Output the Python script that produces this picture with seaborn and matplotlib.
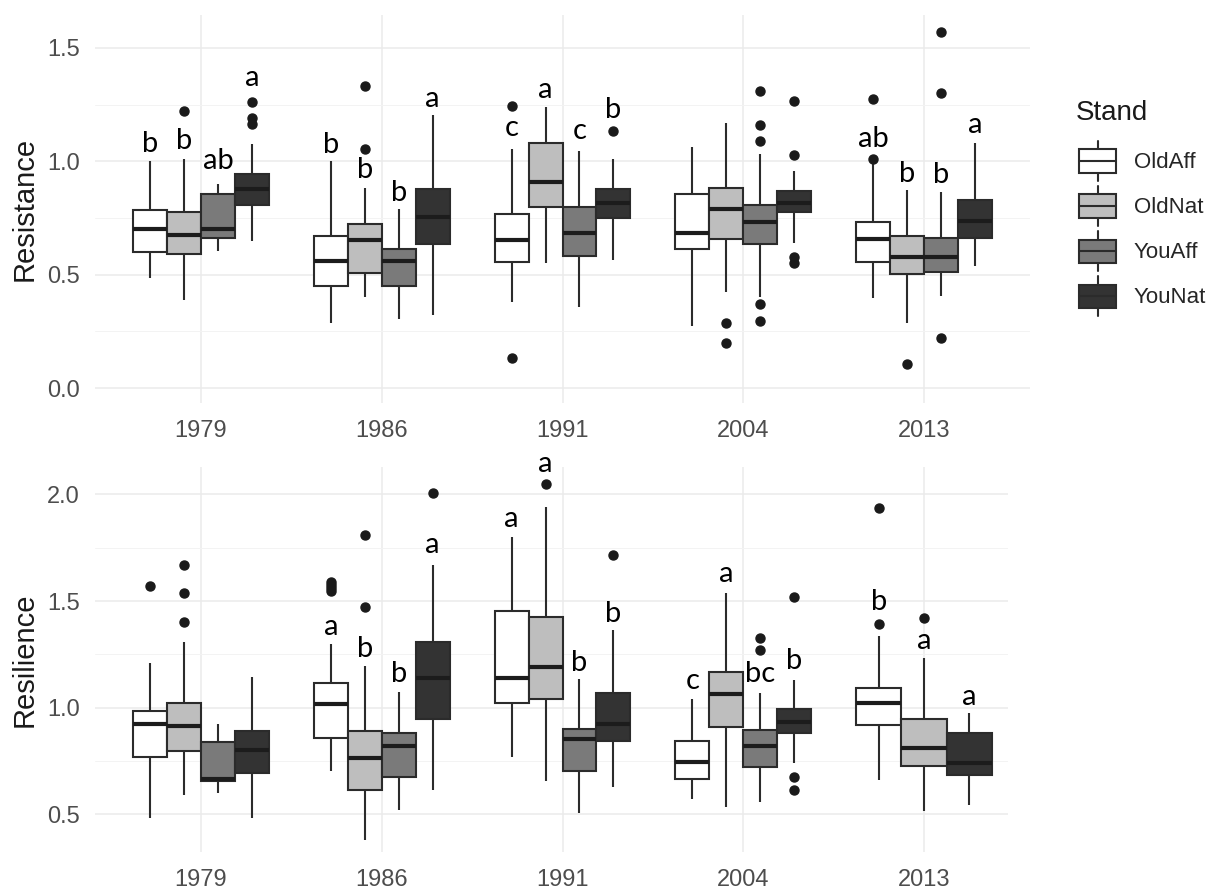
import numpy as np
import pandas as pd
import seaborn as sns
import matplotlib.pyplot as plt
from matplotlib.patches import Patch, Rectangle
from matplotlib.lines import Line2D
from matplotlib.legend_handler import HandlerBase
from matplotlib.ticker import MultipleLocator, FormatStrFormatter

years = ["1979", "1986", "1991", "2004", "2013"]
stands = ["OldAff", "OldNat", "YouAff", "YouNat"]
fills = ["#FFFFFF", "#BEBEBE", "#7A7A7A", "#333333"]

# box summaries: (low whisker, Q1, median, Q3, high whisker)
# rows = years, cols = stands
res_box = [
    [(0.485, 0.60, 0.70, 0.785, 1.00), (0.388, 0.59, 0.675, 0.776, 1.01),
     (0.605, 0.662, 0.70, 0.855, 0.90), (0.65, 0.808, 0.876, 0.943, 1.075)],
    [(0.285, 0.45, 0.56, 0.672, 1.00), (0.40, 0.507, 0.653, 0.723, 0.88),
     (0.303, 0.45, 0.56, 0.612, 0.79), (0.322, 0.635, 0.754, 0.878, 1.205)],
    [(0.38, 0.556, 0.652, 0.768, 1.054), (0.553, 0.80, 0.91, 1.08, 1.24),
     (0.356, 0.584, 0.685, 0.80, 1.047), (0.565, 0.749, 0.818, 0.878, 1.01)],
    [(0.275, 0.612, 0.685, 0.854, 1.064), (0.425, 0.656, 0.79, 0.884, 1.17),
     (0.40, 0.636, 0.73, 0.805, 1.03), (0.64, 0.775, 0.818, 0.869, 0.957)],
    [(0.398, 0.556, 0.659, 0.733, 0.99), (0.285, 0.503, 0.579, 0.671, 0.873),
     (0.406, 0.513, 0.579, 0.66, 0.866), (0.538, 0.66, 0.737, 0.83, 1.08)],
]
res_out = [
    [[], [1.22], [], [1.26, 1.19, 1.165]],
    [[], [1.33, 1.055], [], []],
    [[1.245, 0.132], [], [], [1.135]],
    [[], [0.288, 0.20], [1.31, 1.16, 1.09, 0.37, 0.295], [1.266, 1.028, 0.578, 0.55]],
    [[1.273, 1.01], [0.105], [1.57, 1.30, 0.22], []],
]
res_letters = [["b", "b", "ab", "a"], ["b", "b", "b", "a"], ["c", "a", "c", "b"],
               ["", "", "", ""], ["ab", "b", "b", "a"]]
res_letter_y = [[1.04, 1.054, 0.966, 1.33], [1.035, 0.925, 0.826, 1.24],
                [1.11, 1.28, 1.098, 1.19], [0, 0, 0, 0], [1.065, 0.91, 0.905, 1.123]]

rsl_box = [
    [(0.48, 0.768, 0.923, 0.984, 1.209), (0.59, 0.796, 0.913, 1.02, 1.308),
     (0.60, 0.655, 0.665, 0.84, 0.923), (0.48, 0.693, 0.80, 0.89, 1.143)],
    [(0.70, 0.857, 1.016, 1.115, 1.298), (0.378, 0.613, 0.763, 0.89, 1.195),
     (0.52, 0.675, 0.819, 0.88, 1.073), (0.613, 0.946, 1.138, 1.308, 1.669)],
    [(0.768, 1.02, 1.138, 1.453, 1.80), (0.655, 1.04, 1.19, 1.425, 1.94),
     (0.505, 0.70, 0.852, 0.899, 1.134), (0.627, 0.843, 0.923, 1.068, 1.364)],
    [(0.57, 0.664, 0.744, 0.843, 1.04), (0.533, 0.909, 1.063, 1.167, 1.537),
     (0.556, 0.72, 0.819, 0.894, 1.068), (0.739, 0.88, 0.932, 0.993, 1.129)],
    [(0.66, 0.918, 1.021, 1.092, 1.336), (0.514, 0.725, 0.81, 0.946, 1.233),
     None, (0.542, 0.683, 0.739, 0.88, 0.974)],
]
rsl_out = [
    [[1.57], [1.669, 1.537, 1.40], [], []],
    [[1.59, 1.575, 1.56, 1.545], [1.81, 1.472], [], [2.007]],
    [[], [2.05], [], [1.716]],
    [[], [], [1.326, 1.27], [1.519, 0.674, 0.613]],
    [[1.937, 1.392], [1.42], [], []],
]
rsl_letters = [["", "", "", ""], ["a", "b", "b", "a"], ["a", "a", "b", "b"],
               ["c", "a", "bc", "b"], ["b", "a", "", "a"]]
rsl_letter_y = [[0, 0, 0, 0], [1.34, 1.237, 1.12, 1.725], [1.847, 2.105, 1.17, 1.40],
                [1.087, 1.59, 1.12, 1.18], [1.458, 1.275, 0, 1.012]]


def to_long(box, out, k=40):
    # rebuild a sample whose quartiles/whiskers/outliers match the summaries
    rows = []
    for i, yr in enumerate(years):
        for j, st in enumerate(stands):
            if box[i][j] is None:
                continue
            lo, q1, med, q3, hi = box[i][j]
            vals = [lo] + [q1] * k + [med] * k + [q3] * k + [hi] + list(out[i][j])
            rows += [(yr, st, v) for v in vals]
    return pd.DataFrame(rows, columns=["year", "stand", "value"])


res_df = to_long(res_box, res_out)
rsl_df = to_long(rsl_box, rsl_out)

sns.set_theme(style="white")
plt.rcParams["font.family"] = ["Liberation Sans", "DejaVu Sans"]

edge = "#2b2b2b"
pal = dict(zip(stands, fills))
box_kw = dict(x="year", y="value", hue="stand", order=years, width=0.75, gap=0,
              saturation=1, linewidth=1.5, linecolor=edge, fliersize=6.5,
              showcaps=False, legend=False,
              medianprops=dict(linewidth=3.0, color="#1c1c1c"),
              flierprops=dict(marker="o", markerfacecolor="#1a1a1a",
                              markeredgecolor="#1a1a1a"))

W, H = 1222, 889
fig = plt.figure(figsize=(W / 100, H / 100), dpi=100)
ax1 = fig.add_axes([95 / W, 1 - 403 / H, 935 / W, 388 / H])
ax2 = fig.add_axes([95 / W, 1 - 852 / H, 913 / W, 385 / H])

sns.boxplot(data=res_df, hue_order=stands, palette=pal, ax=ax1, **box_kw)
sns.boxplot(data=rsl_df[rsl_df.year != "2013"], hue_order=stands, palette=pal,
            ax=ax2, **box_kw)
sub = ["OldAff", "OldNat", "YouNat"]
sns.boxplot(data=rsl_df[rsl_df.year == "2013"], hue_order=sub,
            palette={s: pal[s] for s in sub}, ax=ax2, **box_kw)

off4 = (np.arange(4) - 1.5) * 0.75 / 4
off3 = {"OldAff": -0.25, "OldNat": 0.0, "YouNat": 0.25}
for ax, letters, ly in [(ax1, res_letters, res_letter_y), (ax2, rsl_letters, rsl_letter_y)]:
    for i, yr in enumerate(years):
        for j, st in enumerate(stands):
            if not letters[i][j]:
                continue
            dx = off4[j]
            if ax is ax2 and yr == "2013":
                dx = off3[st]
            ax.text(i + dx, ly[i][j], letters[i][j], ha="center", va="baseline",
                    fontsize=21, color="black", family=["Lato", "DejaVu Sans"])

ax1.set_xlim(-(201 - 95) / 180.75, 4 + (1030 - 924) / 180.75)
ax2.set_xlim(-(201 - 95) / 180.75, 4 + (1008 - 924) / 180.75)
ax1.set_ylim(-0.066, 1.645)
ax2.set_ylim(0.322, 2.129)
ax1.set_yticks([0.0, 0.5, 1.0, 1.5])
ax2.set_yticks([0.5, 1.0, 1.5, 2.0])

for ax, lab in [(ax1, "Resistance"), (ax2, "Resilience")]:
    ax.yaxis.set_major_formatter(FormatStrFormatter("%.1f"))
    ax.yaxis.set_minor_locator(MultipleLocator(0.25))
    ax.set_axisbelow(True)
    ax.grid(True, which="major", color="#EBEBEB", linewidth=1.1)
    ax.grid(True, which="minor", axis="y", color="#F3F3F3", linewidth=0.7)
    for s in ax.spines.values():
        s.set_visible(False)
    ax.tick_params(which="both", length=0, labelsize=17, labelcolor="#4D4D4D")
    ax.tick_params(axis="x", pad=12.5)
    ax.tick_params(axis="y", pad=11)
    ax.set_xlabel("")
    ax.set_ylabel(lab, fontsize=21, color="#1a1a1a", va="center")
    ax.yaxis.set_label_coords(-70 / (ax.get_position().width * W), 0.5)


class BoxKey(HandlerBase):
    def create_artists(self, legend, orig_handle, xdescent, ydescent, width,
                       height, fontsize, trans):
        x0, y0 = -xdescent, -ydescent
        cx = x0 + width / 2
        bh = height * 0.58
        by = y0 + (height - bh) / 2
        wl = Line2D([cx, cx], [y0, y0 + height], color=edge, lw=1.5, transform=trans)
        r = Rectangle((x0, by), width, bh, facecolor=orig_handle.get_facecolor(),
                      edgecolor=edge, lw=1.5, transform=trans)
        ml = Line2D([x0, x0 + width], [y0 + height / 2] * 2, color=edge, lw=1.5,
                    transform=trans)
        return [wl, r, ml]


fig.text(1076 / W, 1 - 120 / H, "Stand", fontsize=20, color="#1a1a1a",
         ha="left", va="baseline")
handles = [Patch(facecolor=c) for c in fills]
fig.legend(handles, stands, loc="upper left",
           bbox_to_anchor=(1079 / W, 1 - 141 / H), frameon=False, fontsize=16,
           handler_map={Patch: BoxKey()}, handlelength=1.67,
           handleheight=2.39, labelspacing=0.23, handletextpad=0.8, borderpad=0,
           borderaxespad=0)

fig.savefig("out.png", dpi=100)
